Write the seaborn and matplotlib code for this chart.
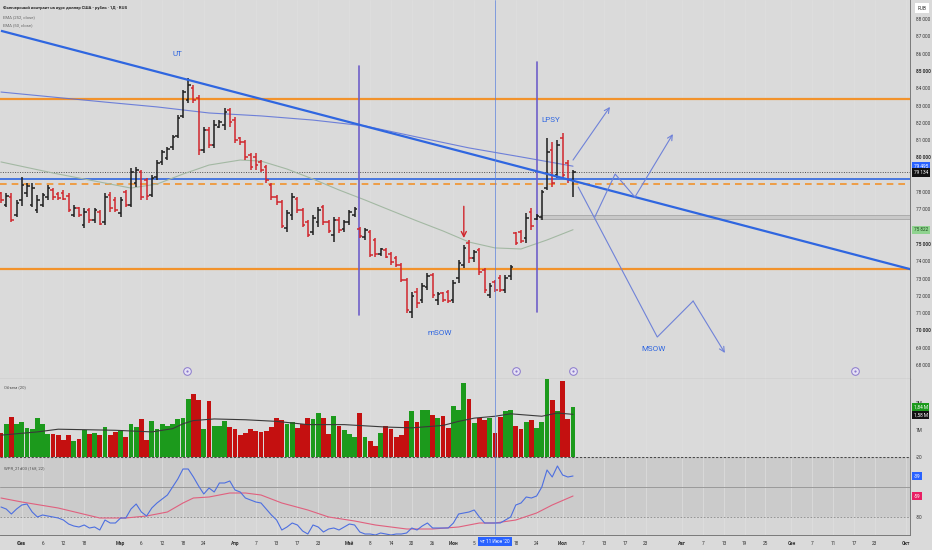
import numpy as np
import matplotlib
matplotlib.use("Agg")
import matplotlib.pyplot as plt
import matplotlib.transforms as mtransforms
from matplotlib.patches import Rectangle
import seaborn as sns

# ---------------- data ----------------
bar_open = [77940, 77250, 77710, 76670, 77540, 77940, 77250, 76960, 77250, 77710,
            78120, 77890, 77940, 77770, 76670, 77080, 76100, 76960, 76380, 76850,
            76270, 77830, 77540, 76790, 78000, 77250, 78520, 79160, 78700, 77830,
            78870, 79740, 79970, 80600, 81240, 82400, 83320, 84010, 83440, 80430,
            81590, 80720, 81760, 81880, 82740, 82160, 81120, 80890, 80140, 80030,
            79740, 79450, 78410, 77710, 77420, 75920, 76670, 77600, 76960, 76270,
            75690, 76270, 77140, 76270, 75520, 76380, 75860, 76270, 76670, 75860,
            75400, 75690, 75230, 74420, 74650, 74420, 74190, 73780, 72920, 71070,
            72220, 71760, 72510, 73210, 71760, 72160, 72220, 71760, 73030, 73780,
            75050, 74190, 74650, 73490, 72050, 72800, 73030, 72340, 73150, 75630,
            75690, 75340, 76850, 76440, 76560, 78230, 80430, 78990, 81120, 79680, 78700]
bar_close = [77540, 77770, 76380, 77370, 78410, 78350, 78230, 77540, 77830, 78230,
             77710, 77660, 77600, 76960, 77080, 76670, 76850, 76380, 76960, 76150,
             77710, 77080, 76960, 77540, 77250, 79160, 79270, 77710, 77770, 78810,
             79680, 80310, 80490, 81180, 82280, 83780, 84190, 83320, 80430, 81590,
             80720, 81880, 82050, 82630, 82050, 81010, 80890, 80030, 79450, 79560,
             79270, 78700, 77710, 77420, 76040, 76790, 77710, 76960, 76100, 75520,
             76500, 76960, 76270, 75750, 76380, 75810, 76270, 76850, 77020, 75460,
             75810, 74360, 74420, 74710, 74250, 73960, 73780, 72920, 71180, 71990,
             71590, 72570, 73150, 72050, 72110, 71760, 71700, 72740, 73900, 74770,
             74190, 74530, 73380, 72340, 72570, 72340, 72340, 73030, 73670, 75050,
             75170, 76500, 76040, 76620, 78000, 80310, 78520, 80720, 78990, 78700, 79134]
bar_high = [78000, 77940, 77940, 77540, 78870, 78520, 78520, 77830, 77940, 78410,
            78230, 78000, 78120, 77940, 77250, 77140, 77080, 77080, 77080, 76960,
            77940, 78000, 77710, 77710, 78120, 79390, 79450, 79270, 78810, 78990,
            79850, 80430, 80600, 81300, 82450, 83900, 84590, 84190, 83610, 81760,
            81760, 82160, 82160, 82860, 82860, 82340, 81180, 81010, 80260, 80260,
            79850, 79560, 78520, 77830, 77540, 76960, 77940, 77710, 77080, 76380,
            76670, 77140, 77250, 76380, 76560, 76560, 76380, 76960, 77140, 75980,
            75920, 75810, 75340, 74770, 74770, 74530, 74300, 73900, 73030, 72220,
            72450, 72740, 73320, 73320, 72220, 72220, 72340, 72920, 74070, 74940,
            75230, 74650, 74770, 73610, 72740, 72920, 73210, 73210, 73780, 75690,
            75810, 76790, 77080, 76730, 78120, 81120, 80890, 81010, 81410, 79850, 79270]
bar_low = [77370, 77140, 76270, 76560, 77190, 77710, 77140, 76790, 77140, 77540,
           77540, 77540, 77540, 76850, 76560, 76560, 75920, 76210, 76210, 76100,
           76100, 76850, 76850, 76560, 77140, 77140, 78290, 77540, 77540, 77710,
           78700, 79560, 79850, 80430, 81120, 82280, 83150, 83150, 80140, 80260,
           80550, 80550, 81700, 81590, 81760, 80830, 80720, 79850, 79270, 79270,
           79160, 78520, 77540, 77250, 75920, 75690, 76380, 76790, 75980, 75400,
           75520, 75980, 76100, 75630, 75110, 75630, 75690, 76100, 76560, 75340,
           75230, 74250, 74250, 74300, 74190, 73780, 73670, 72800, 71010, 70720,
           71300, 71590, 72340, 71880, 71470, 71640, 71590, 71590, 72740, 73610,
           73900, 73960, 73210, 72160, 71880, 72220, 72220, 72160, 72920, 74940,
           75050, 75050, 75810, 76380, 76380, 78120, 78290, 78810, 78810, 78520, 77710]

volume_m = [0.89, 1.21, 1.50, 1.23, 1.28, 1.09, 1.02, 1.45, 1.21, 0.87,
            0.87, 0.80, 0.63, 0.82, 0.60, 0.68, 0.99, 0.87, 0.88, 0.80,
            1.11, 0.82, 0.91, 0.99, 0.73, 1.21, 1.11, 1.39, 0.62, 1.35,
            1.05, 1.21, 1.14, 1.23, 1.39, 1.44, 2.14, 2.32, 2.12, 1.05,
            2.09, 1.14, 1.14, 1.33, 1.11, 1.02, 0.81, 0.89, 1.02, 0.97,
            0.92, 0.97, 1.11, 1.45, 1.38, 1.21, 1.28, 1.09, 1.21, 1.45,
            1.40, 1.64, 1.45, 0.87, 1.51, 1.16, 0.99, 0.85, 0.73, 1.62,
            0.75, 0.58, 0.41, 0.89, 1.16, 1.04, 0.73, 0.82, 1.33, 1.72,
            1.28, 1.74, 1.74, 1.55, 1.45, 1.52, 1.09, 1.89, 1.74, 2.73,
            2.14, 1.26, 1.43, 1.38, 1.43, 0.89, 1.50, 1.72, 1.74, 1.14,
            1.02, 1.31, 1.38, 1.09, 1.31, 2.88, 2.10, 1.69, 2.81, 1.40, 1.84]
vol_ma_bars = [0, 7, 11, 22, 29, 33, 35, 37, 41, 47, 53, 59, 66, 74, 79, 85, 88, 91, 95, 98, 104, 107, 110]
vol_ma = [0.81, 0.93, 1.03, 0.99, 0.93, 1.05, 1.23, 1.35, 1.41, 1.38, 1.32, 1.20,
          1.20, 1.11, 1.08, 1.17, 1.32, 1.44, 1.51, 1.60, 1.51, 1.63, 1.58]

wpr = [-70, -72, -77, -72, -68, -67, -75, -80, -78, -79,
       -80, -81, -83, -87, -89, -90, -88, -91, -90, -93,
       -83, -86, -86, -81, -81, -72, -67, -75, -79, -71,
       -66, -62, -58, -50, -42, -32, -32, -40, -49, -57,
       -51, -55, -46, -46, -44, -53, -55, -61, -63, -65,
       -66, -72, -78, -83, -93, -90, -86, -88, -94, -97,
       -88, -90, -95, -92, -91, -93, -90, -87, -88, -95,
       -97, -97, -98, -96, -97, -98, -97, -97, -96, -91,
       -93, -89, -86, -91, -91, -91, -91, -86, -77, -76,
       -75, -73, -80, -86, -86, -86, -86, -83, -80, -68,
       -66, -60, -61, -59, -50, -33, -40, -29, -38, -40, -39]
wpr_ma_bars = [0, 4, 11, 15, 19, 24, 28, 32, 35, 37, 40, 44, 47, 50, 54, 59, 63,
               68, 72, 78, 83, 88, 92, 95, 99, 103, 106, 110]
wpr_ma = [-61, -65, -71, -76, -81, -81, -79, -75, -66, -61, -60, -56, -56, -58,
          -66, -73, -80, -84, -88, -92, -92, -90, -86, -86, -83, -76, -68, -59]

ema252_bars = [0, 10, 20, 30, 40, 50, 60, 70, 80, 90, 100, 110]
ema252 = [83780, 83490, 83200, 82920, 82570, 82400, 82160, 81820, 81180, 80550, 80030, 79495]
ema50_bars = [0, 10, 20, 25, 30, 35, 40, 46, 50, 55, 60, 65, 70, 75, 80, 85, 90, 95, 100, 105, 110]
ema50 = [79740, 79100, 78520, 78230, 78460, 79040, 79560, 79850, 79790, 79330, 78750,
         78120, 77540, 76930, 76330, 75750, 75110, 74770, 74710, 75230, 75822]

# drawn levels and annotations (bar index, price)
level_top = 83380
level_bottom = 73550
level_dashed = 78460
level_blue = 78750
last_price = 79134
zone_prices = [76440, 76670]
trend_bars = [0, 175]
trend_prices = [87320, 73530]
marker_bars = [68.8, 103.1]
marker_prices = [[70890, 85285], [71070, 85520]]
path_up_bars = [110, 117.1]
path_up = [79850, 82920]
path_mid_bars = [114.2, 118.1, 121.9, 129.2]
path_mid = [76560, 79040, 77710, 81350]
path_down_bars = [111, 126.2, 133.1, 139.2]
path_down = [78290, 69620, 71700, 68700]
labels_text = ["UT", "LPSY", "mSOW", "MSOW"]
labels_bars = [33.9, 105.8, 84.4, 125.4]
labels_prices = [85980, 82160, 69850, 68930]
event_bars = [35.8, 99, 110, 164.2]

price_ticks = list(range(68000, 89000, 1000))
hidden_ticks = {79000, 76000}
date_labels = ["Фев", "6", "12", "18", "Мар", "6", "12", "18", "24", "Апр", "7", "13", "17", "23",
               "Май", "8", "14", "20", "26", "Июн", "5", "18", "24", "Июл", "7", "13", "17", "23",
               "Авг", "7", "13", "19", "25", "Сен", "7", "11", "17", "23", "Окт"]
date_bars = [4, 8, 12, 16, 23, 27, 31, 35, 39, 45, 49, 53, 57, 61, 67, 71, 75, 79, 83, 87, 91,
             99, 103, 108, 112, 116, 120, 124, 131, 135, 139, 143, 147, 152, 156, 160, 164, 168, 174]
months = {"Фев", "Мар", "Апр", "Май", "Июн", "Июл", "Авг", "Сен", "Окт"}
cursor_bar = 95

# ---------------- style ----------------
sns.set_theme(style="white")
plt.rcParams["font.family"] = ["Roboto", "DejaVu Sans"]

BG = "#dadada"
BLUE = "#2f66e0"
RED = "#d0262d"
BLACK = "#1e1e1e"
GREEN = "#1c9a1c"
VRED = "#c41010"
ORANGE = "#f2922b"
PURPLE = "#6f5fc9"
PROJ = "#6f82d8"
FS = 3.4

W, H = 932, 550
fig = plt.figure(figsize=(W / 100, H / 100), dpi=100)
fig.patch.set_facecolor(BG)


def panel(top, bottom):
    a = fig.add_axes([0, 1 - bottom / H, 910 / W, (bottom - top) / H])
    a.set_facecolor(BG)
    for s in a.spines.values():
        s.set_visible(False)
    a.spines["right"].set_visible(True)
    a.spines["right"].set_color("#7a7a7a")
    a.spines["right"].set_linewidth(0.7)
    a.yaxis.tick_right()
    a.tick_params(axis="both", length=0, labelsize=FS, labelcolor="#333333", pad=4)
    a.set_xlim(-0.19, 174.8)
    a.set_xticks(date_bars)
    a.grid(axis="x", color="#dfdfdf", lw=0.5)
    return a


ax = panel(0, 379)
axv = panel(379, 457)
axw = panel(457, 535)


def fmt(p):
    return f"{p:,}".replace(",", " ")


def value_box(a, y, text, fc, tc="white"):
    tr = mtransforms.blended_transform_factory(a.transAxes, a.transData)
    a.text(1.004, y, text, transform=tr, fontsize=FS, color=tc, va="center", ha="left",
           bbox=dict(boxstyle="square,pad=0.35", fc=fc, ec="none"), zorder=6, clip_on=False)


# ---------------- price panel ----------------
ax.set_ylim(67194, 89100)
ax.set_yticks(price_ticks)
ax.set_yticklabels(["" if p in hidden_ticks else fmt(p) for p in price_ticks])
for t, p in zip(ax.get_yticklabels(), price_ticks):
    if p % 5000 == 0:
        t.set_fontweight("bold")
ax.set_xticklabels([])
ax.spines["bottom"].set_visible(True)
ax.spines["bottom"].set_color("#555555")
ax.spines["bottom"].set_linewidth(0.8)

ax.axhline(level_top, color=ORANGE, lw=1.6, zorder=2)
ax.axhline(level_bottom, color=ORANGE, lw=1.6, zorder=2)
ax.axhline(level_dashed, color=ORANGE, lw=1.2, ls=(0, (4, 3)), zorder=2)
ax.axhline(level_blue, color=BLUE, lw=1.2, zorder=2)
ax.axhline(last_price, color="#505050", lw=0.7, ls=(0, (1, 1.5)), zorder=2)
ax.add_patch(Rectangle((103.6, zone_prices[0]), 175 - 103.6, zone_prices[1] - zone_prices[0],
                       fc="#c8c8c8", ec="#a6a6a6", lw=0.6, zorder=2))

sns.lineplot(x=ema252_bars, y=ema252, ax=ax, color="#5a6fd8", lw=0.8, alpha=0.85, zorder=2.5)
sns.lineplot(x=ema50_bars, y=ema50, ax=ax, color="#a3b8a3", lw=0.8, zorder=2.5)

for b, (lo, hi) in zip(marker_bars, marker_prices):
    ax.plot([b, b], [lo, hi], color=PURPLE, lw=1.2, zorder=2.6)

idx = np.arange(len(bar_close))
up = np.array(bar_close) >= np.array(bar_open)
bar_colors = np.where(up, BLACK, RED)
ax.vlines(idx, bar_low, bar_high, colors=bar_colors, lw=1.1, zorder=3)
ax.hlines(bar_open, idx - 0.5, idx, colors=bar_colors, lw=1.1, zorder=3)
ax.hlines(bar_close, idx, idx + 0.5, colors=bar_colors, lw=1.1, zorder=3)

ax.plot(trend_bars, trend_prices, color=BLUE, lw=1.6, zorder=4, solid_capstyle="butt")

arrow_kw = dict(arrowstyle="->", color=PROJ, lw=0.8, mutation_scale=9, shrinkA=0, shrinkB=0)
for xs, ys in [(path_up_bars, path_up), (path_mid_bars, path_mid), (path_down_bars, path_down)]:
    ax.plot(xs[:-1], ys[:-1], color=PROJ, lw=0.8, zorder=4)
    ax.annotate("", xy=(xs[-1], ys[-1]), xytext=(xs[-2], ys[-2]), arrowprops=arrow_kw, zorder=4)

ax.annotate("", xy=(89, 75340), xytext=(89, 77175),
            arrowprops=dict(arrowstyle="->", color=RED, lw=1.0, mutation_scale=9,
                            shrinkA=0, shrinkB=0), zorder=4)

for s, b, p in zip(labels_text, labels_bars, labels_prices):
    ax.text(b, p, s, color=BLUE, fontsize=5.8, ha="center", va="center", zorder=5)

ev_tr = mtransforms.blended_transform_factory(ax.transData, ax.transAxes)
ax.plot(event_bars, [0.021] * len(event_bars), "o", ms=5.5, mfc="#e6e2f5", mec="#8a78cc",
        mew=0.7, transform=ev_tr, clip_on=False, zorder=5)
ax.plot(event_bars, [0.021] * len(event_bars), "o", ms=1.6, mfc="#8a78cc", mec="none",
        transform=ev_tr, clip_on=False, zorder=6)

value_box(ax, ema252[-1], fmt(ema252[-1]), "#2962ff")
value_box(ax, last_price, fmt(last_price), "#111111")
value_box(ax, ema50[-1], fmt(ema50[-1]), "#8fd38f", "#1d4d1d")
fig.text(922 / W, 1 - 8 / H, "RUB", fontsize=FS, color="#333333", ha="center", va="center",
         bbox=dict(boxstyle="square,pad=0.5", fc="white", ec="none"))

fig.text(3 / W, 1 - 8 / H, "Фьючерсный контракт на курс доллар США - рубль · 1Д · RUS",
         fontsize=3.1, fontweight="bold", color="#222222", va="center")
fig.text(3 / W, 1 - 17 / H, "EMA (252, close)", fontsize=3.1, color="#666666", va="center")
fig.text(3 / W, 1 - 25 / H, "EMA (50, close)", fontsize=3.1, color="#666666", va="center")

# ---------------- volume panel ----------------
vol_colors = np.where(up, GREEN, VRED)
axv.bar(idx, volume_m, width=0.92, color=vol_colors, linewidth=0, zorder=3)
sns.lineplot(x=vol_ma_bars, y=vol_ma, ax=axv, color="#3a3a3a", lw=0.8, zorder=4)
axv.set_ylim(0, 2.89)
axv.set_yticks([1, 2])
axv.set_yticklabels(["1M", "2M"])
axv.set_xticklabels([])
axv.set_ylabel("")
value_box(axv, 1.86, "1,84 M", GREEN)
value_box(axv, 1.56, "1,58 M", "#111111")
axv.text(0.004, 0.9, "Объем (20)", transform=axv.transAxes, fontsize=3.1, color="#555555",
         va="center")

# ---------------- WPR panel ----------------
axw.set_ylim(-98, -20)
axw.axhspan(-80, -20, color="#cbcbcb", zorder=0)
axw.axhspan(-98, -80, color="#d6d6d6", zorder=0)
axw.axhline(-50, color="#9a9a9a", lw=0.7, zorder=1)
axw.axhline(-20, color="#4a4a4a", lw=0.8, ls=(0, (2, 1.5)), zorder=5)
axw.axhline(-80, color="#8a8a8a", lw=0.6, ls=(0, (2, 2)), zorder=1)
sns.lineplot(x=wpr_ma_bars, y=wpr_ma, ax=axw, color="#e0607e", lw=0.8, zorder=3)
sns.lineplot(x=idx, y=wpr, ax=axw, color="#4d6fe0", lw=0.8, zorder=4)
axw.set_yticks([-20, -80])
axw.set_yticklabels(["-20", "-80"])
axw.set_ylabel("")
axw.spines["bottom"].set_visible(True)
axw.spines["bottom"].set_color("#7a7a7a")
axw.spines["bottom"].set_linewidth(0.7)
value_box(axw, wpr[-1], str(wpr[-1]), "#2962ff")
value_box(axw, wpr_ma[-1], str(wpr_ma[-1]), "#e91e63")
axw.text(0.004, 0.86, "WPR_21d03 (168, 22)", transform=axw.transAxes, fontsize=3.1,
         color="#555555", va="center")

axw.set_xticklabels(date_labels)
axw.tick_params(axis="x", pad=4)
for t, s in zip(axw.get_xticklabels(), date_labels):
    if s in months:
        t.set_fontweight("bold")
xtr = mtransforms.blended_transform_factory(axw.transData, axw.transAxes)
axw.text(cursor_bar, -0.085, "чт 11 Июн '20", transform=xtr, fontsize=FS, color="white",
         ha="center", va="center", bbox=dict(boxstyle="square,pad=0.5", fc="#2962ff", ec="none"),
         zorder=7, clip_on=False)

for a in (ax, axv, axw):
    a.axvline(cursor_bar, color="#5b82dd", lw=0.5, zorder=5)

fig.savefig("out.png", dpi=100, facecolor=BG)
